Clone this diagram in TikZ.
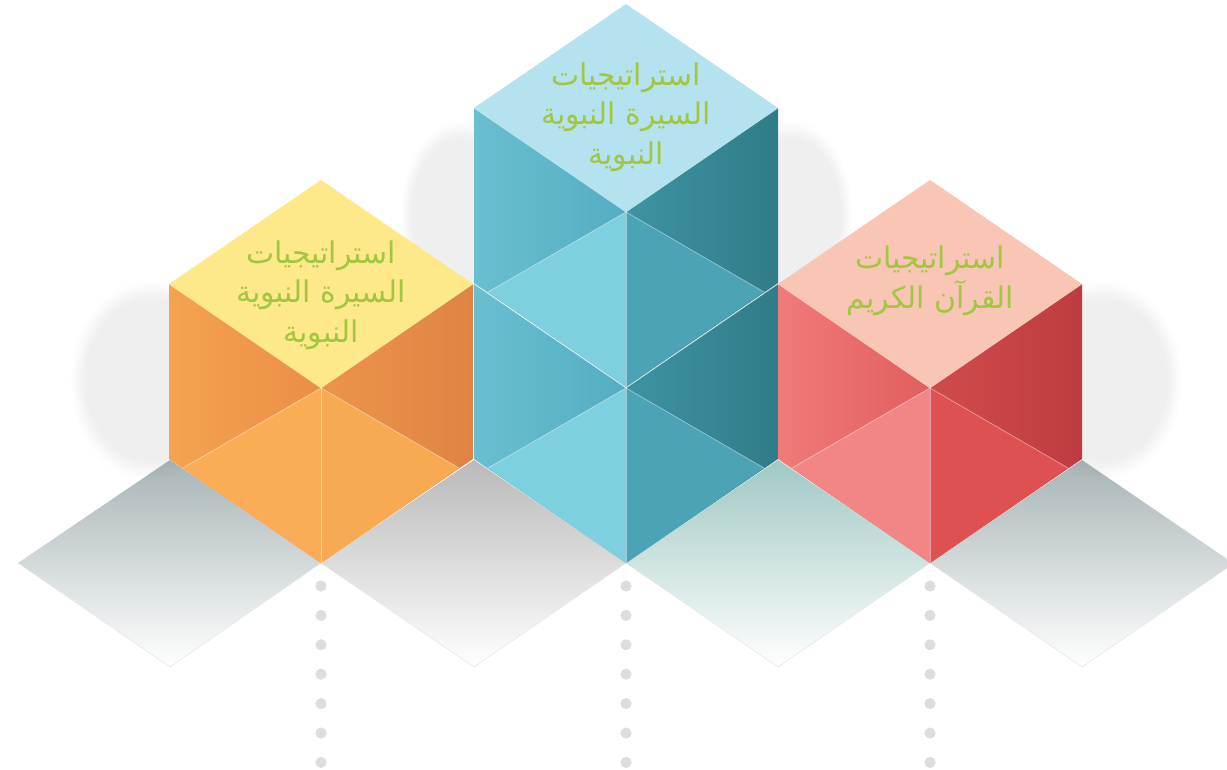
\documentclass[tikz,border=0pt]{standalone}
\usepackage{fontspec}
\newfontfamily\arabicfont[Script=Arabic]{DejaVu Sans}
\TeXXeTstate=1
\usetikzlibrary{calc,fadings}
\definecolor{orangetop}{RGB}{253,232,138}
\definecolor{orangelefta}{RGB}{244,163,80}
\definecolor{orangeleftb}{RGB}{234,142,70}
\definecolor{orangerighta}{RGB}{236,148,74}
\definecolor{orangerightb}{RGB}{223,132,68}
\definecolor{orangeinl}{RGB}{250,173,84}
\definecolor{orangeinr}{RGB}{248,170,82}
\definecolor{bluetop}{RGB}{180,227,239}
\definecolor{bluelefta}{RGB}{105,191,208}
\definecolor{blueleftb}{RGB}{84,173,194}
\definecolor{bluerighta}{RGB}{63,147,162}
\definecolor{bluerightb}{RGB}{48,124,136}
\definecolor{blueinl}{RGB}{126,208,222}
\definecolor{blueinr}{RGB}{76,163,181}
\definecolor{redtop}{RGB}{249,197,181}
\definecolor{redlefta}{RGB}{241,122,122}
\definecolor{redleftb}{RGB}{225,94,94}
\definecolor{redrighta}{RGB}{208,75,75}
\definecolor{redrightb}{RGB}{190,60,64}
\definecolor{redinl}{RGB}{242,134,134}
\definecolor{redinr}{RGB}{222,81,82}
\definecolor{labelgreen}{RGB}{163,198,64}
\definecolor{dotgrey}{RGB}{220,221,225}
\definecolor{floorgrey}{RGB}{168,180,182}
\definecolor{floorteal}{RGB}{160,200,196}

% one cube: front edge x, front vertex y, then the face colours
\newcommand{\cubebody}[8]{%
    \shade[left color=#3, right color=#4] (#1-152,#2-104) -- (#1,#2) -- (#1,#2+175) -- (#1-152,#2+71) -- cycle;
    \shade[left color=#5, right color=#6] (#1+152,#2-104) -- (#1,#2) -- (#1,#2+175) -- (#1+152,#2+71) -- cycle;
    \fill[#7] (#1,#2) -- (#1-138,#2+80) -- (#1,#2+175) -- cycle;
    \fill[#8] (#1,#2) -- (#1+138,#2+80) -- (#1,#2+175) -- cycle;
    \draw[edgeline] (#1-152,#2-104) -- (#1,#2) -- (#1+152,#2-104);
    \draw[edgeline] (#1-138,#2+80) -- (#1,#2) -- (#1+138,#2+80);
    \draw[edgeline] (#1,#2) -- (#1,#2+175);
}
\newcommand{\cubetop}[3]{%
    \fill[#3] (#1,#2-208) -- (#1-152,#2-104) -- (#1,#2) -- (#1+152,#2-104) -- cycle;
}

\begin{document}
\begin{tikzpicture}[x=0.02cm,y=-0.02cm,
    edgeline/.style={white,opacity=0.45,line width=0.4pt},
    gridline/.style={gray!20,line width=0.3pt},
    softshadow/.style={fill=gray,opacity=0.13,path fading=circle with fuzzy edge 20 percent},
    strategy/.style={align=center,text=labelgreen,font=\arabicfont\fontsize{17}{22.5}\selectfont}]
    \useasboundingbox (0,0) rectangle (1227,770);

    % floor shadows
    \shade[top color=floorgrey, middle color=floorgrey!30!white, bottom color=white]
        (170,460) -- (18,563) -- (170,667) -- (321,563) -- cycle;
    \shade[top color=gray!55, middle color=gray!15, bottom color=white]
        (474,460) -- (321,563) -- (474,667) -- (626,563) -- cycle;
    \shade[top color=floorteal, middle color=floorteal!30!white, bottom color=white]
        (778,460) -- (626,563) -- (778,667) -- (930,563) -- cycle;
    \shade[top color=floorgrey, middle color=floorgrey!30!white, bottom color=white]
        (1082,460) -- (930,563) -- (1082,667) -- (1227,568) -- (1227,559) -- cycle;
    \draw[gridline] (18,563) -- (170,667) -- (321,563);
    \draw[gridline] (321,563) -- (474,667) -- (626,563);
    \draw[gridline] (626,563) -- (778,667) -- (930,563);
    \draw[gridline] (930,563) -- (1082,667) -- (1227,568);

    % side shadows
    \path[softshadow] (70,280) rectangle (230,480);
    \path[softshadow] (400,120) rectangle (520,310);
    \path[softshadow] (732,120) rectangle (852,310);
    \path[softshadow] (1022,280) rectangle (1182,480);

    % dots
    \foreach \x in {321,626,930}
        \foreach \k in {0,...,6}
            \fill[dotgrey] (\x,586+29.4*\k) circle (5.6);

    % left cube
    \cubebody{321}{388}{orangelefta}{orangeleftb}{orangerighta}{orangerightb}{orangeinl}{orangeinr}
    \cubetop{321}{388}{orangetop}

    % middle column, two cubes
    \cubebody{626}{388}{bluelefta}{blueleftb}{bluerighta}{bluerightb}{blueinl}{blueinr}
    \cubebody{626}{212}{bluelefta}{blueleftb}{bluerighta}{bluerightb}{blueinl}{blueinr}
    \cubetop{626}{212}{bluetop}

    % right cube
    \cubebody{930}{388}{redlefta}{redleftb}{redrighta}{redrightb}{redinl}{redinr}
    \cubetop{930}{388}{redtop}

    \node[strategy] (sira) at (321,295)
        {\beginR استراتيجيات\endR\\\beginR السيرة النبوية\endR\\\beginR النبوية\endR};
    \node[strategy] (siratop) at (626,117)
        {\beginR استراتيجيات\endR\\\beginR السيرة النبوية\endR\\\beginR النبوية\endR};
    \node[strategy] (quran) at (930,281)
        {\beginR استراتيجيات\endR\\\beginR القرآن الكريم\endR};
\end{tikzpicture}
\end{document}
